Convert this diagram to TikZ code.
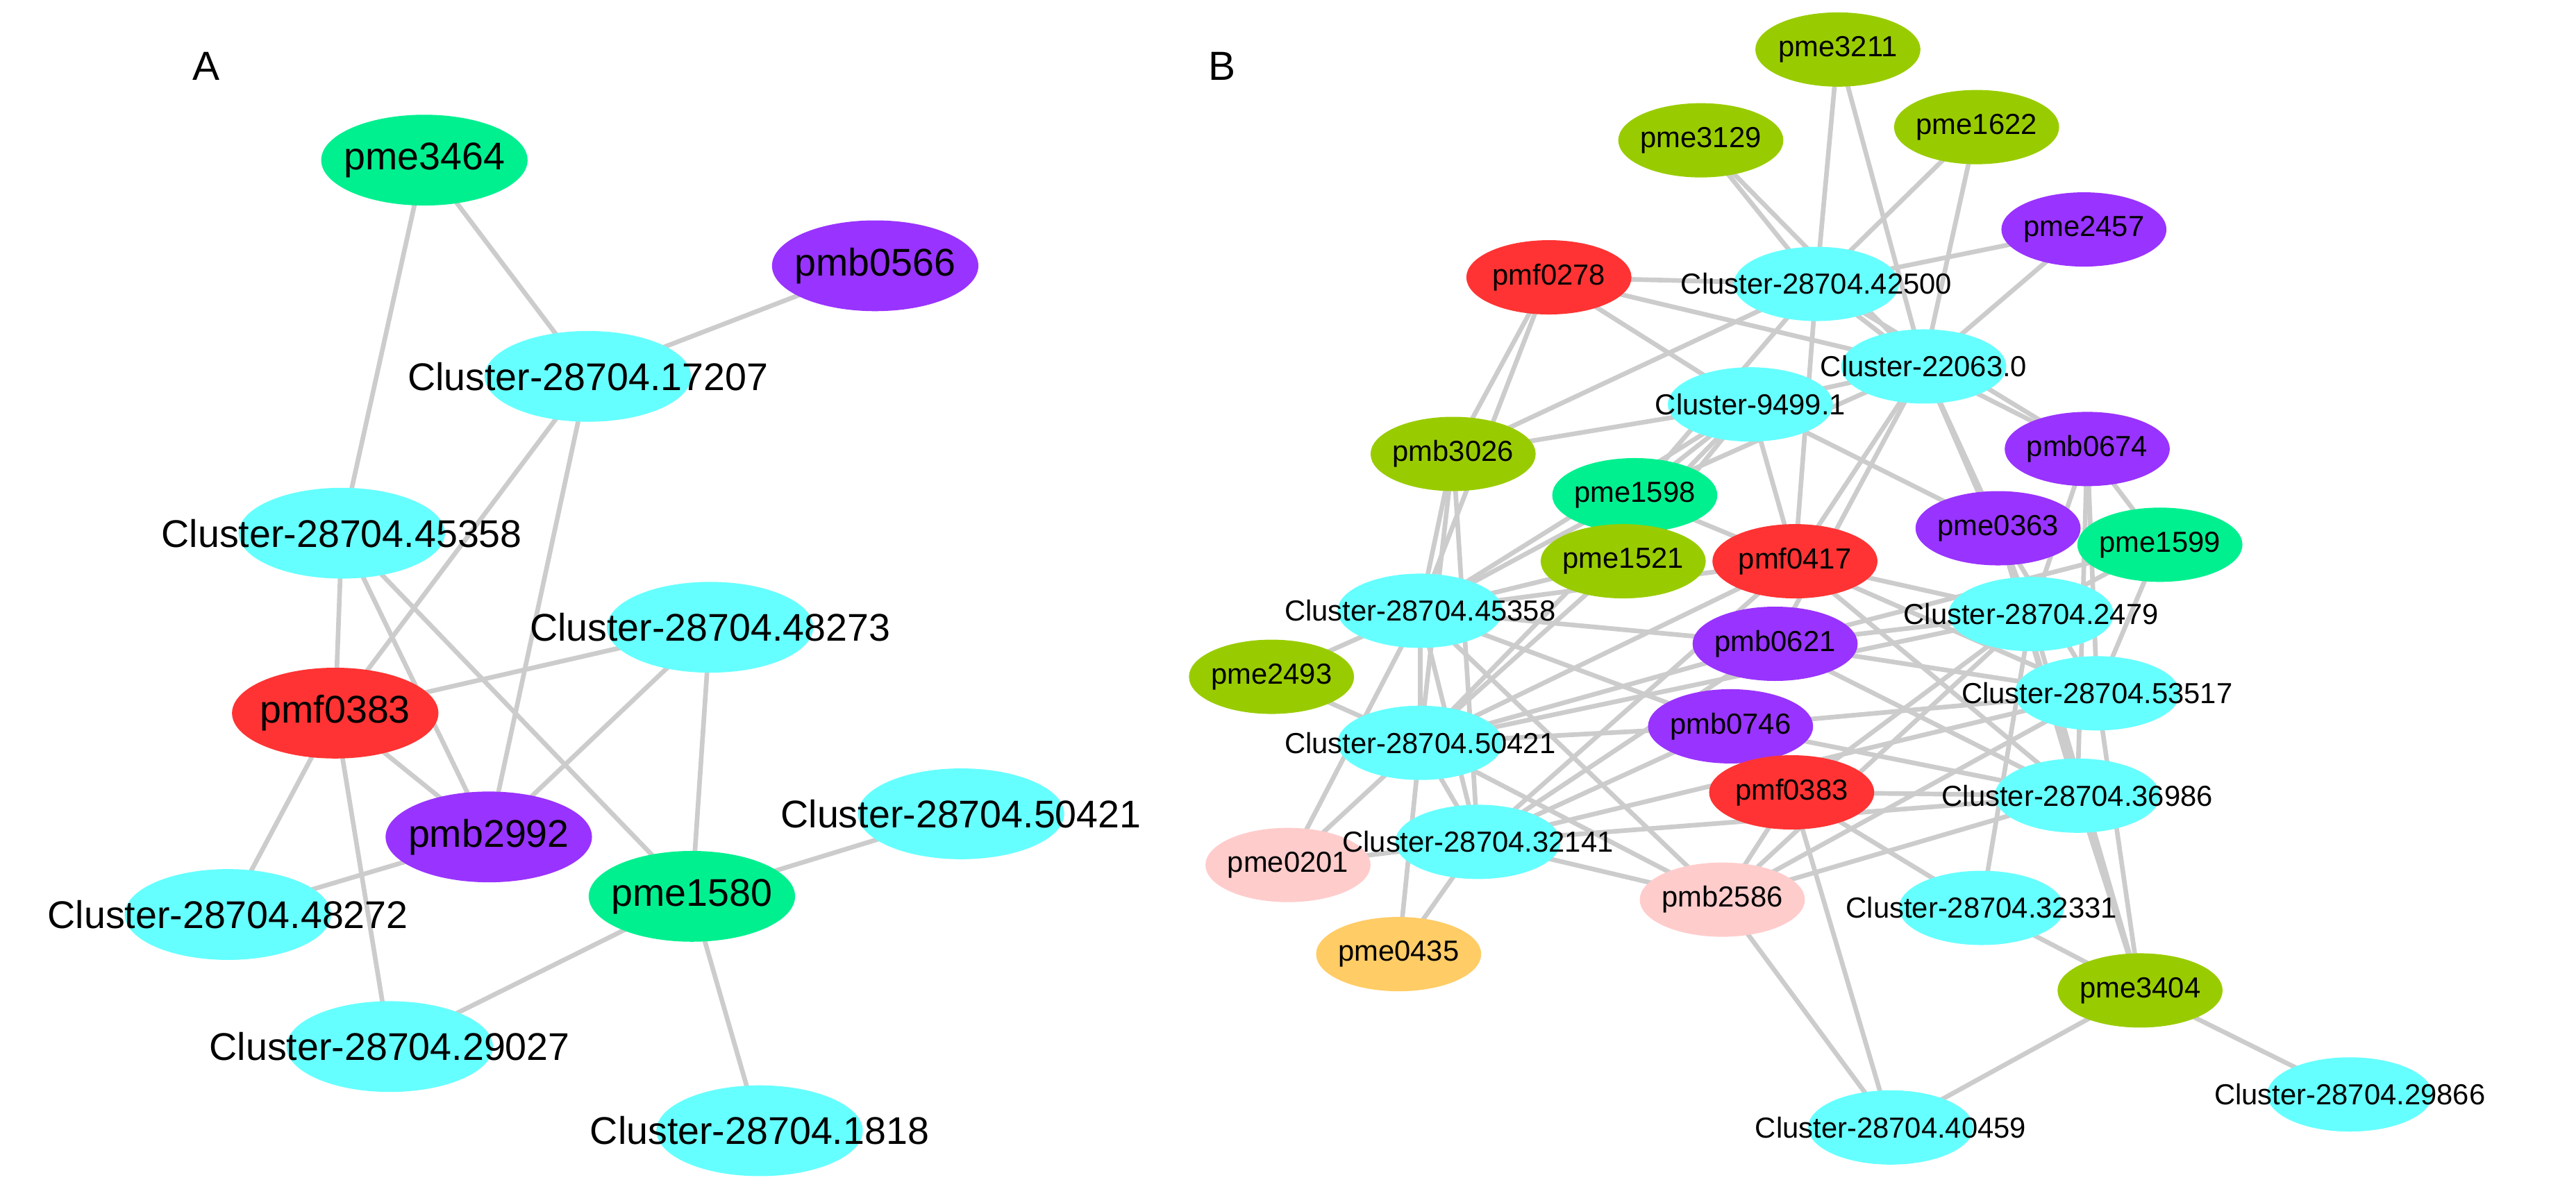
\documentclass[tikz,border=0pt]{standalone}
\usepackage{fontspec}
\setmainfont{Liberation Sans}
\usetikzlibrary{shapes.geometric,backgrounds}
\definecolor{cy}{HTML}{66FFFF}
\definecolor{mi}{HTML}{00F090}
\definecolor{pu}{HTML}{9933FF}
\definecolor{rd}{HTML}{FF3333}
\definecolor{ol}{HTML}{99CC00}
\definecolor{pk}{HTML}{FFCCCC}
\definecolor{or}{HTML}{FFCC66}
\definecolor{ed}{HTML}{CCCCCC}
\tikzset{
 na/.style={ellipse,draw=none,minimum width=2.5cm,minimum height=1.1cm,inner sep=0pt},
 nb/.style={ellipse,draw=none,minimum width=2.0cm,minimum height=0.9cm,inner sep=0pt},
 tna/.style={inner sep=0pt,font=\fontsize{13.3}{15}\selectfont},
 tnb/.style={inner sep=0pt,font=\fontsize{10}{12}\selectfont},
 e/.style={draw=ed,line width=1.6pt},
 lab/.style={font=\fontsize{14}{16}\selectfont}
}
\newcommand{\nodelist}{%
na/mi/a3464/257/97/pme3464,
na/pu/a0566/530/161/pmb0566,
na/cy/a17207/356/228/Cluster-28704.17207,
na/cy/a45358/207/323/Cluster-28704.45358,
na/cy/a48273/430/380/Cluster-28704.48273,
na/rd/a0383/203/432/pmf0383,
na/pu/a2992/296/507/pmb2992,
na/mi/a1580/419/543/pme1580,
na/cy/a50421/582/493/Cluster-28704.50421,
na/cy/a48272/138/554/Cluster-28704.48272,
na/cy/a29027/236/634/Cluster-28704.29027,
na/cy/a1818/460/685/Cluster-28704.1818,
nb/ol/b3211/1113/30/pme3211,
nb/ol/b3129/1030/85/pme3129,
nb/ol/b1622/1197/77/pme1622,
nb/pu/b2457/1262/139/pme2457,
nb/rd/b0278/938/168/pmf0278,
nb/cy/b42500/1100/172/Cluster-28704.42500,
nb/cy/b22063/1165/222/Cluster-22063.0,
nb/cy/b9499/1060/245/Cluster-9499.1,
nb/ol/b3026/880/275/pmb3026,
nb/pu/b0674/1264/272/pmb0674,
nb/mi/b1598/990/300/pme1598,
nb/pu/b0363/1210/320/pme0363,
nb/mi/b1599/1308/330/pme1599,
nb/ol/b1521/983/340/pme1521,
nb/rd/b0417/1087/340/pmf0417,
nb/cy/b45358/860/370/Cluster-28704.45358,
nb/cy/b2479/1230/372/Cluster-28704.2479,
nb/pu/b0621/1075/390/pmb0621,
nb/ol/b2493/770/410/pme2493,
nb/cy/b53517/1270/420/Cluster-28704.53517,
nb/cy/b50421/860/450/Cluster-28704.50421,
nb/pu/b0746/1048/440/pmb0746,
nb/cy/b36986/1258/482/Cluster-28704.36986,
nb/rd/b0383/1085/480/pmf0383,
nb/cy/b32141/895/510/Cluster-28704.32141,
nb/pk/b0201/780/524/pme0201,
nb/pk/b2586/1043/545/pmb2586,
nb/cy/b32331/1200/550/Cluster-28704.32331,
nb/or/b0435/847/578/pme0435,
nb/ol/b3404/1296/600/pme3404,
nb/cy/b40459/1145/683/Cluster-28704.40459,
nb/cy/b29866/1423/663/Cluster-28704.29866}
\begin{document}
\begin{tikzpicture}[x=0.02cm,y=-0.02cm]
\useasboundingbox (0,0) rectangle (1560,720);
\node[lab] (A) at (125,40) {A};
\node[lab] (B) at (740,40) {B};
\foreach \s/\c/\n/\x/\y/\t in \nodelist
  \node[\s,fill=\c] (\n) at (\x,\y) {};
\foreach \s/\c/\n/\x/\y/\t in \nodelist
  \node[t\s] (t\n) at (\n.center) {\t};
\begin{scope}[on background layer]
\foreach \u/\v in {a3464/a17207,a3464/a45358,a0566/a17207,a17207/a0383,a17207/a2992,a45358/a0383,a45358/a2992,a45358/a1580,a48273/a0383,a48273/a2992,a48273/a1580,a0383/a48272,a0383/a29027,a0383/a2992,a2992/a48272,a1580/a50421,a1580/a29027,a1580/a1818}
  \draw[e] (\u.center) -- (\v.center);
\foreach \u/\v in {b3211/b42500,b3211/b22063,b3129/b42500,b3129/b22063,b1622/b42500,b1622/b22063,b2457/b42500,b2457/b22063,
b0278/b42500,b0278/b22063,b0278/b9499,b0278/b3026,b0278/b45358,
b42500/b3026,b42500/b1598,b42500/b0417,b42500/b22063,b42500/b0674,
b22063/b0674,b22063/b0417,b22063/b1598,b22063/b2479,b22063/b0363,b22063/b9499,b22063/b0621,
b9499/b3026,b9499/b1598,b9499/b1521,b9499/b0417,b9499/b45358,b9499/b0363,b9499/b50421,
b3026/b45358,b3026/b50421,b3026/b32141,
b0674/b2479,b0674/b1599,b0674/b53517,b0674/b36986,
b1598/b0417,b1598/b45358,
b0363/b2479,b0363/b53517,b0363/b36986,b0363/b3404,
b1599/b2479,b1599/b53517,b1599/b0621,
b1521/b45358,b1521/b50421,
b0417/b2479,b0417/b53517,b0417/b36986,b0417/b45358,b0417/b50421,b0417/b32141,
b45358/b0621,b45358/b2493,b45358/b50421,b45358/b0746,b45358/b0201,b45358/b32141,b45358/b2586,
b2479/b0621,b2479/b50421,b2479/b0383,b2479/b32331,b2479/b3404,b2479/b2586,
b0621/b53517,b0621/b50421,b0621/b32141,b0621/b36986,
b2493/b50421,
b53517/b0746,b53517/b32141,b53517/b2586,b53517/b3404,
b50421/b0746,b50421/b0201,b50421/b0435,b50421/b32141,b50421/b2586,
b0746/b36986,b0746/b32141,
b36986/b0383,b36986/b2586,b36986/b3404,b36986/b32141,
b0383/b2586,b0383/b32331,b0383/b40459,
b32141/b0201,b32141/b0435,b32141/b2586,
b2586/b40459,b32331/b3404,b3404/b40459,b3404/b29866}
  \draw[e] (\u.center) -- (\v.center);
\end{scope}
\end{tikzpicture}
\end{document}
